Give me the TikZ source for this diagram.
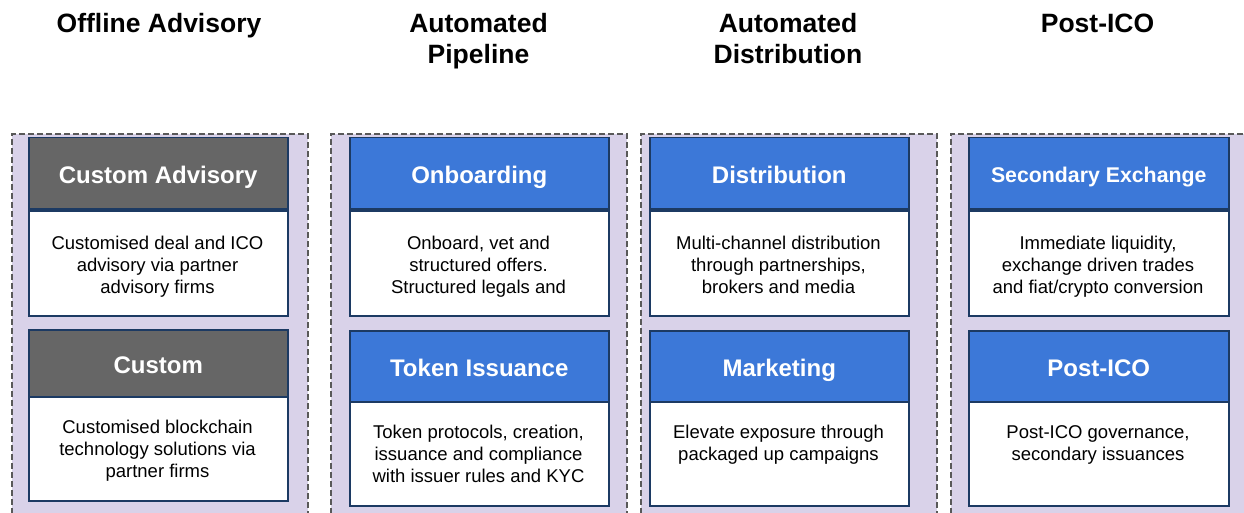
\documentclass[tikz,border=0pt]{standalone}
\usepackage{fontspec}
\setmainfont{Liberation Sans}
\usetikzlibrary{calc}
\definecolor{panelbg}{HTML}{D9D2E9}
\definecolor{dashgray}{HTML}{595959}
\definecolor{hdrblue}{HTML}{3C78D8}
\definecolor{hdrgray}{HTML}{666666}
\definecolor{boxline}{HTML}{1C3A63}
\begin{document}
\begin{tikzpicture}[x=1pt,y=-1pt,
  panel/.style={draw=dashgray, fill=panelbg, line width=1.6pt, dash pattern=on 6pt off 3pt, inner sep=0pt, anchor=north west, minimum width=296pt, minimum height=420pt},
  hdr/.style={draw=boxline, line width=1.5pt, anchor=north west, inner sep=0pt, minimum width=259pt, text=white, font=\bfseries\fontsize{24pt}{28pt}\selectfont, text height=20pt, text depth=0pt},
  bluehdr/.style={hdr, fill=hdrblue},
  grayhdr/.style={hdr, fill=hdrgray},
  bodybox/.style={draw=boxline, line width=1.5pt, fill=white, anchor=north west, inner sep=0pt, minimum width=259pt},
  bodytext/.style={anchor=north, inner sep=0pt, align=center, font=\fontsize{18.5pt}{22pt}\selectfont},
  coltitle/.style={anchor=base, inner sep=0pt, align=center, font=\bfseries\fontsize{26.5pt}{31pt}\selectfont}
]
\useasboundingbox (0,0) rectangle (1244,513);
\clip (0,0) rectangle (1244,513);

% panels
\node[panel] (p1) at (11,133) {};
\node[panel] (p2) at (330,133) {};
\node[panel] (p3) at (640,133) {};
\node[panel] (p4) at (950,133) {};

% titles (base anchor = baseline of last line)
\node[coltitle] (t1) at (159,33) {Offline Advisory};
\node[coltitle] (t2) at (478.5,64) {Automated\\Pipeline};
\node[coltitle] (t3) at (788,64) {Automated\\Distribution};
\node[coltitle] (t4) at (1097.5,33) {Post-ICO};

% column 1
\node[grayhdr, minimum height=71pt] (h11) at (28,137) {Custom Advisory};
\node[bodybox, minimum height=105pt] (b11) at (28,210) {};
\node[bodytext] (x11) at (157.5,236) {Customised deal and ICO\\advisory via partner\\advisory firms};
\node[grayhdr, minimum height=67pt] (h12) at (28,329) {Custom};
\node[bodybox, minimum height=104pt] (b12) at (28,396) {};
\node[bodytext] (x12) at (157.5,420) {Customised blockchain\\technology solutions via\\partner firms};

% column 2
\node[bluehdr, minimum height=71pt] (h21) at (349,137) {Onboarding};
\node[bodybox, minimum height=105pt] (b21) at (349,210) {};
\node[bodytext] (x21) at (478.5,236) {Onboard, vet and\\structured offers.\\Structured legals and};
\node[bluehdr, minimum height=71pt] (h22) at (349,330) {Token Issuance};
\node[bodybox, minimum height=104pt] (b22) at (349,401) {};
\node[bodytext] (x22) at (478.5,425) {Token protocols, creation,\\issuance and compliance\\with issuer rules and KYC};

% column 3
\node[bluehdr, minimum height=71pt] (h31) at (649,137) {Distribution};
\node[bodybox, minimum height=105pt] (b31) at (649,210) {};
\node[bodytext] (x31) at (778.5,236) {Multi-channel distribution\\through partnerships,\\brokers and media};
\node[bluehdr, minimum height=71pt] (h32) at (649,330) {Marketing};
\node[bodybox, minimum height=104pt] (b32) at (649,401) {};
\node[bodytext] (x32) at (778.5,425) {Elevate exposure through\\packaged up campaigns};

% column 4
\node[bluehdr, minimum height=71pt, minimum width=260pt, font=\bfseries\fontsize{21.3pt}{25pt}\selectfont, text height=18pt] (h41) at (968,137) {Secondary Exchange};
\node[bodybox, minimum height=105pt, minimum width=260pt] (b41) at (968,210) {};
\node[bodytext] (x41) at (1098,236) {Immediate liquidity,\\exchange driven trades\\and fiat/crypto conversion};
\node[bluehdr, minimum height=71pt, minimum width=260pt] (h42) at (968,330) {Post-ICO};
\node[bodybox, minimum height=104pt, minimum width=260pt] (b42) at (968,401) {};
\node[bodytext] (x42) at (1098,425) {Post-ICO governance,\\secondary issuances};
\end{tikzpicture}
\end{document}
